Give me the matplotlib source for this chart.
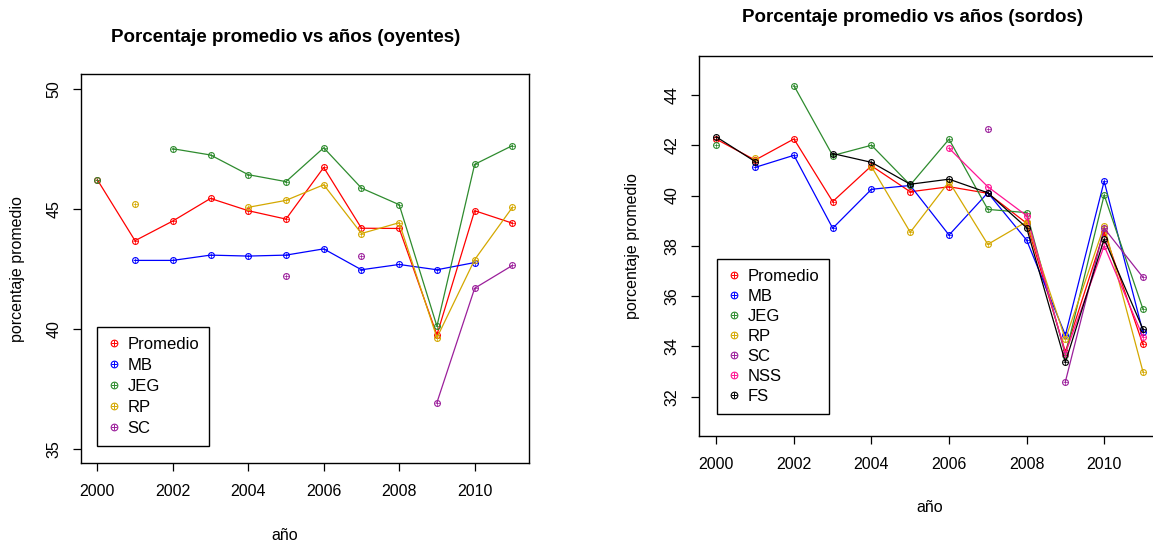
import numpy as np
import matplotlib
matplotlib.use("Agg")
import matplotlib.pyplot as plt
from matplotlib.lines import Line2D
from matplotlib.legend_handler import HandlerTuple

nan = np.nan
years = list(range(2000, 2012))

# --- oyentes (left) ---
oy_promedio = [46.21, 43.67, 44.49, 45.43, 44.92, 44.57, 46.72, 44.19, 44.18, 39.75, 44.92, 44.40]
oy_mb = [nan, 42.85, 42.85, 43.07, 43.03, 43.07, 43.33, 42.46, 42.68, 42.46, 42.76, nan]
oy_jeg = [46.21, nan, 47.50, 47.24, 46.42, 46.13, 47.54, 45.86, 45.17, 40.11, 46.85, 47.63]
oy_rp = [nan, 45.21, nan, nan, 45.06, 45.35, 46.00, 43.97, 44.42, 39.63, 42.88, 45.06]
oy_sc = [nan, nan, nan, nan, nan, 42.21, nan, 43.03, nan, 36.93, 41.69, 42.64]

# --- sordos (right) ---
so_promedio = [42.24, 41.41, 42.25, 39.76, 41.18, 40.15, 40.35, 40.09, 38.90, 33.79, 38.56, 34.08]
so_mb = [nan, 41.12, 41.60, 38.70, 40.25, 40.40, 38.43, 40.11, 38.23, 34.45, 40.57, 34.57]
so_jeg = [42.00, nan, 44.37, 41.59, 42.00, 40.42, 42.24, 39.45, 39.32, 33.66, 40.02, 35.49]
so_rp = [nan, 41.48, nan, nan, 41.15, 38.54, 40.55, 38.06, 38.96, 34.29, 38.79, 33.00]
so_sc = [nan, nan, nan, nan, nan, nan, nan, 42.63, nan, 32.60, 38.70, 36.75]
so_nss = [nan, nan, nan, nan, nan, nan, 41.88, 40.35, 39.20, 33.72, 38.00, 34.39]
so_fs = [42.33, 41.35, nan, 41.67, 41.32, 40.45, 40.65, 40.11, 38.72, 33.37, 38.27, 34.69]

oy_names = ["Promedio", "MB", "JEG", "RP", "SC"]
so_names = ["Promedio", "MB", "JEG", "RP", "SC", "NSS", "FS"]
colors = {"Promedio": "#FF0000", "MB": "#0000FF", "JEG": "#2E8B2E", "RP": "#D4A800",
          "SC": "#9B1F9B", "NSS": "#FF1493", "FS": "#000000"}

oy_x_ticks = [2000, 2002, 2004, 2006, 2008, 2010]
oy_y_ticks = [35, 40, 45, 50]
so_x_ticks = [2000, 2002, 2004, 2006, 2008, 2010]
so_y_ticks = [32, 34, 36, 38, 40, 42, 44]

plt.rcParams['font.family'] = ['Liberation Sans', 'DejaVu Sans']

W, H = 1153, 544
fig = plt.figure(figsize=(W / 100, H / 100), dpi=100)


def frac_x(px):
    return px / W


def frac_y(py):
    return 1 - py / H


def make_ax(x0, x1, y0, y1):
    return fig.add_axes([frac_x(x0), frac_y(y1), frac_x(x1) - frac_x(x0), (y1 - y0) / H])


ax1 = make_ax(80.7, 529.0, 74.3, 463.3)
ax2 = make_ax(699.3, 1160.0, 55.7, 436.0)

MS = 4.2


def draw(ax, names, series):
    for name, vals in zip(names, series):
        c = colors[name]
        ax.plot(years, vals, color=c, lw=0.9, marker='o', ms=MS, mfc='none', mec=c, mew=0.8)
        ax.plot(years, vals, ls='none', color=c, marker='+', ms=MS - 0.6, mew=0.5)


draw(ax1, oy_names, [oy_promedio, oy_mb, oy_jeg, oy_rp, oy_sc])
draw(ax2, so_names, [so_promedio, so_mb, so_jeg, so_rp, so_sc, so_nss, so_fs])

ax1.set_xlim(1999.56, 2011.44)
ax1.set_ylim(34.4, 50.6)
ax2.set_xlim(1999.56, 2011.44)
ax2.set_ylim(30.44, 45.56)

for ax, xt, yt in [(ax1, oy_x_ticks, oy_y_ticks), (ax2, so_x_ticks, so_y_ticks)]:
    ax.set_xticks(xt)
    ax.set_yticks(yt)
    ax.set_xticklabels([str(v) for v in xt])
    ax.set_yticklabels([str(v) for v in yt], rotation=90, va='center')
    ax.tick_params(direction='out', length=6, width=0.9, labelsize=11.5, colors='black')
    ax.tick_params(axis='x', pad=9)
    ax.tick_params(axis='y', pad=8)
    for s in ax.spines.values():
        s.set_linewidth(1.0)
        s.set_color('black')

# titles and labels placed like the reference
fig.text(frac_x(285.5), frac_y(37), "Porcentaje promedio vs años (oyentes)", ha='center', va='center',
         fontsize=13.5, fontweight='bold')
fig.text(frac_x(912), frac_y(17), "Porcentaje promedio vs años (sordos)", ha='center', va='center',
         fontsize=13.5, fontweight='bold')
fig.text(frac_x(285), frac_y(535), "año", ha='center', va='center', fontsize=11.5)
fig.text(frac_x(930), frac_y(507), "año", ha='center', va='center', fontsize=11.5)
fig.text(frac_x(18), frac_y(269), "porcentaje promedio", ha='center', va='center', rotation=90, fontsize=11.5)
fig.text(frac_x(633), frac_y(246), "porcentaje promedio", ha='center', va='center', rotation=90, fontsize=11.5)


def legend(ax, names, x0, y0, spacing):
    handles = []
    for n in names:
        c = colors[n]
        h1 = Line2D([], [], ls='none', marker='o', ms=MS + 0.6, mfc='none', mec=c, mew=0.8)
        h2 = Line2D([], [], ls='none', marker='+', ms=MS + 0.4, color=c, mew=0.7)
        handles.append((h1, h2))
    leg = ax.legend(handles, names, handler_map={tuple: HandlerTuple(ndivide=1)},
                    loc='upper left', bbox_to_anchor=(frac_x(x0), frac_y(y0)), bbox_transform=fig.transFigure,
                    fontsize=12, frameon=True, fancybox=False, edgecolor='black', framealpha=1,
                    handlelength=0.9, handletextpad=0.35, labelspacing=spacing, borderpad=0.6,
                    borderaxespad=0)
    leg.get_frame().set_linewidth(1.0)
    return leg


legend(ax1, oy_names, 96.7, 327.3, 0.36)
legend(ax2, so_names, 716.7, 259.0, 0.3)

fig.savefig("out.png", dpi=100)
